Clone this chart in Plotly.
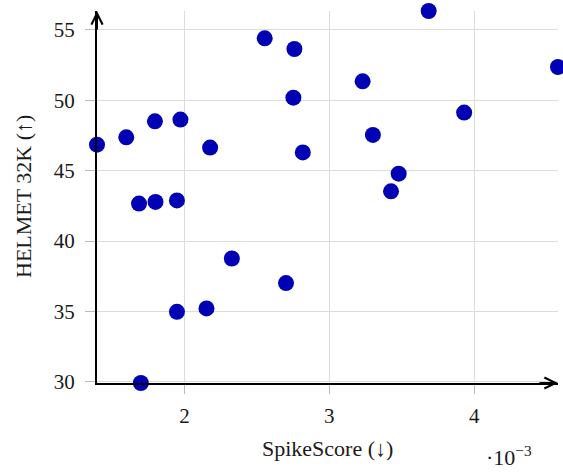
import plotly.graph_objects as go

# SpikeScore (absolute values, axis shown in units of 1e-3)
spike_score = [1.396e-3, 1.598e-3, 1.796e-3, 1.972e-3, 2.177e-3, 1.686e-3, 1.800e-3, 1.948e-3,
               2.554e-3, 3.686e-3, 2.759e-3, 4.579e-3, 3.230e-3, 2.752e-3, 3.931e-3, 3.301e-3,
               2.817e-3, 3.479e-3, 3.426e-3, 2.327e-3, 1.948e-3, 2.152e-3, 1.699e-3, 2.701e-3]
helmet_32k = [46.85, 47.37, 48.51, 48.63, 46.64, 42.66, 42.78, 42.89,
              54.41, 56.35, 53.65, 52.37, 51.35, 50.19, 49.13, 47.54,
              46.30, 44.79, 43.53, 38.76, 34.97, 35.21, 29.91, 37.01]

x_tickvals = [0.002, 0.003, 0.004]
x_ticktext = ["2", "3", "4"]
y_tickvals = [30, 35, 40, 45, 50, 55]

FONT = "Liberation Serif, DejaVu Serif, serif"
BLUE = "#0000B4"
GRID = "#dcdcdc"
TXT = "#1a1a1a"

xmin, xmax = min(spike_score), max(spike_score)
ymin, ymax = min(helmet_32k), max(helmet_32k)

fig = go.Figure()
fig.add_trace(go.Scatter(
    x=spike_score, y=helmet_32k, mode="markers",
    marker=dict(color=BLUE, size=16, line=dict(width=0)),
    cliponaxis=False, showlegend=False,
))

fig.update_layout(
    width=563, height=472,
    margin=dict(l=97, r=5, t=11, b=89),
    paper_bgcolor="white", plot_bgcolor="white",
    font=dict(family=FONT, size=21, color=TXT),
    xaxis=dict(
        range=[xmin, xmax], tickvals=x_tickvals, ticktext=x_ticktext,
        showgrid=True, gridcolor=GRID, gridwidth=1, zeroline=False,
        showline=True, linecolor="black", linewidth=2,
        ticks="outside", ticklen=9, tickcolor="#bbbbbb", tickwidth=1,
        ticklabelstandoff=4,
        tickfont=dict(family=FONT, size=21, color=TXT),
    ),
    yaxis=dict(
        range=[ymin, ymax], tickvals=y_tickvals,
        showgrid=True, gridcolor=GRID, gridwidth=1, zeroline=False,
        showline=True, linecolor="black", linewidth=2,
        ticks="outside", ticklen=10, tickcolor="#bbbbbb", tickwidth=1,
        ticklabelstandoff=6,
        tickfont=dict(family=FONT, size=21, color=TXT),
    ),
    annotations=[
        # axis arrowheads
        dict(x=xmax, y=ymin, xref="x", yref="y", ax=-20, ay=0, axref="pixel", ayref="pixel",
             showarrow=True, arrowhead=5, arrowsize=1.1, arrowwidth=2, arrowcolor="black",
             text="", standoff=0),
        dict(x=xmin, y=ymax, xref="x", yref="y", ax=0, ay=20, axref="pixel", ayref="pixel",
             showarrow=True, arrowhead=5, arrowsize=1.1, arrowwidth=2, arrowcolor="black",
             text="", standoff=0),
        # axis titles
        dict(x=0.5, y=0, xref="paper", yref="paper", yshift=-65, text="SpikeScore (↓)",
             showarrow=False, xanchor="center", yanchor="middle",
             font=dict(family=FONT, size=22, color=TXT)),
        dict(x=0, y=0.5, xref="paper", yref="paper", xshift=-74, text="HELMET 32K (↑)",
             showarrow=False, textangle=-90, xanchor="center", yanchor="middle",
             font=dict(family=FONT, size=22, color=TXT)),
        dict(x=1, y=0, xref="paper", yref="paper", xshift=-49, yshift=-73,
             text="·10<sup>−3</sup>", showarrow=False, xanchor="center", yanchor="middle",
             font=dict(family=FONT, size=22, color=TXT)),
    ],
)

fig.write_html("out.html")
